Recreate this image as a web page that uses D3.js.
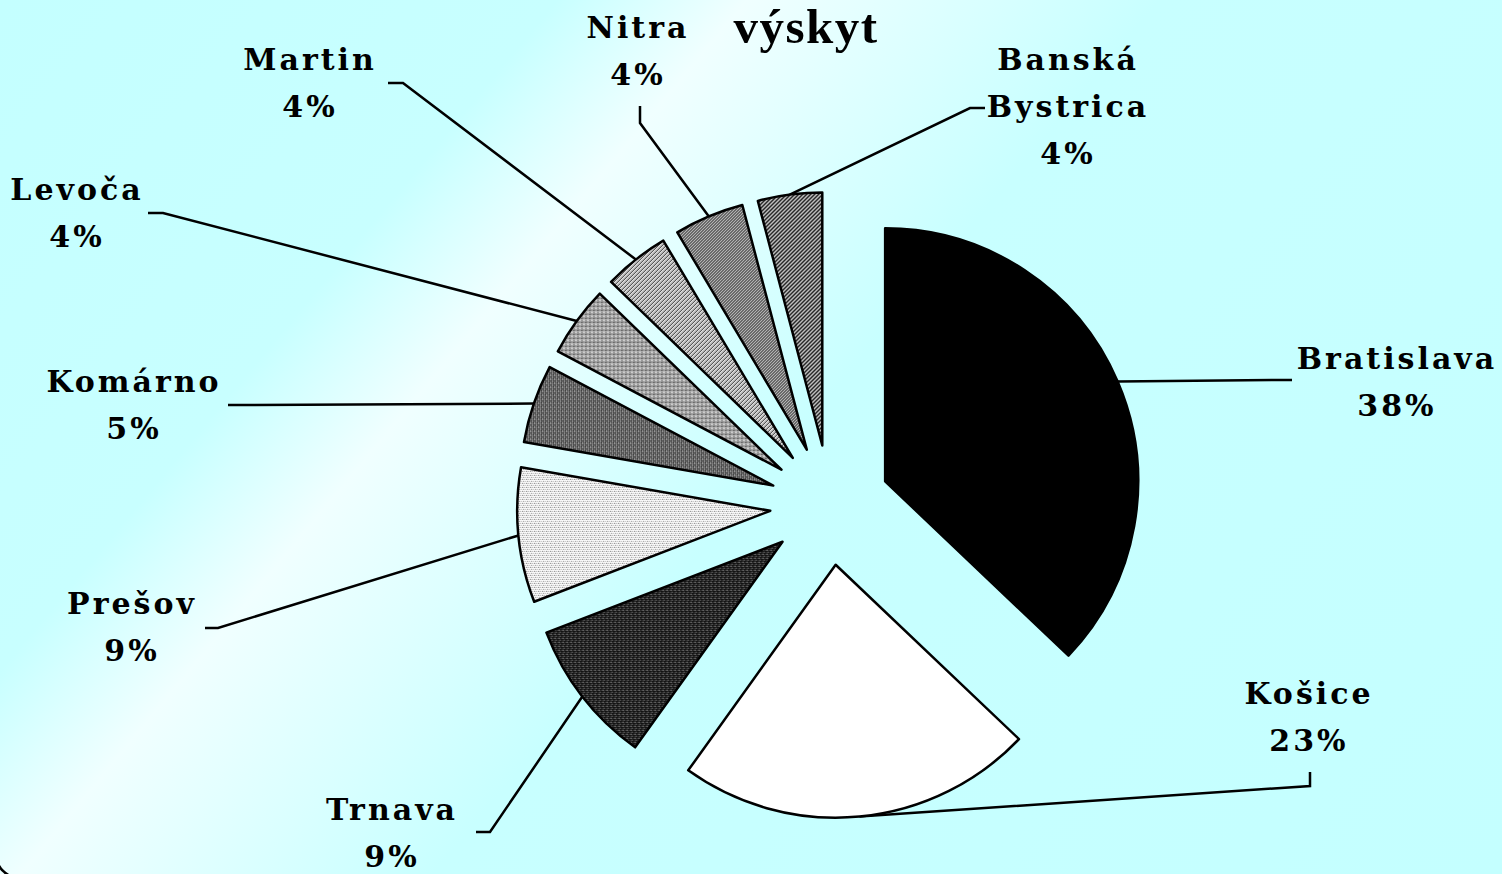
<!DOCTYPE html>
<html>
<head>
<meta charset="utf-8">
<script src="https://cdn.jsdelivr.net/npm/d3@7/dist/d3.min.js"></script>
<style>
    body { margin: 0; overflow: hidden; }
</style>
</head>
<body>
<div id="pie_chart"></div>
<script>
// data (shares, labels as printed)
var regions = ["Bratislava", "Košice", "Trnava", "Prešov", "Komárno", "Levoča", "Martin", "Nitra", "Banská Bystrica"];
var shares = [37.1, 22.8, 9.25, 8.6, 5.0, 4.5, 4.2, 4.45, 4.1];
var shareLabels = ["38%", "23%", "9%", "9%", "5%", "4%", "4%", "4%", "4%"];
var chartTitle = "výskyt";

// size of the page and of the pie
var width = 1502, height = 874;
var cx = 830, cy = 505, radius = 253, explode = 60;

// where each label sits, and the bend / end of its leader line
var labelAt = [[1397, 369], [1309, 704], [392, 820], [132, 614], [134, 392], [77, 200], [310, 70], [638, 38], [1068, 70]];
var bendAt = [[1278, 380], [1310, 786], [490, 832], [218, 628], [240, 405], [163, 213], [403, 83], [640, 123], [970, 108]];
var endAt = [[1292, 380], [1310, 772], [476, 832], [205, 628], [228, 405], [148, 213], [388, 83], [640, 106], [985, 108]];

var svg = d3.select("#pie_chart")
    .append("svg")
    .attr("width", width)
    .attr("height", height);

var defs = svg.append("defs");

// pale cyan background with a lighter diagonal band
var grad = defs.append("linearGradient")
    .attr("id", "bg")
    .attr("gradientUnits", "userSpaceOnUse")
    .attr("x1", 0).attr("y1", 0)
    .attr("x2", 1319).attr("y2", 1096);
[[0, "#c4ffff"], [0.25, "#c8ffff"], [0.335, "#f0ffff"], [0.52, "#c8ffff"], [1, "#c4ffff"]]
    .forEach(function(s) {
        grad.append("stop").attr("offset", s[0]).attr("stop-color", s[1]);
    });

// small pixel patterns, like the old excel fills
function pixelPattern(id, size, bg, pix) {
    var p = defs.append("pattern")
        .attr("id", id)
        .attr("patternUnits", "userSpaceOnUse")
        .attr("width", size)
        .attr("height", size);
    p.append("rect").attr("width", size).attr("height", size).attr("fill", bg);
    pix.forEach(function(q) {
        p.append("rect")
            .attr("x", q[0]).attr("y", q[1])
            .attr("width", 1).attr("height", 1)
            .attr("fill", q[2]);
    });
}
function diagonal(size, colors) {
    var out = [];
    for (var x = 0; x < size; x++)
        for (var y = 0; y < size; y++)
            out.push([x, y, colors[(x + y) % colors.length]]);
    return out;
}

pixelPattern("p_trnava", 4, "#000", [[0, 0, "#fff"], [2, 0, "#888"], [1, 2, "#ccc"], [3, 2, "#777"]]);
pixelPattern("p_presov", 4, "#fff", [[0, 0, "#555"], [2, 0, "#999"], [1, 2, "#777"], [3, 2, "#aaa"]]);
pixelPattern("p_komarno", 4, "#6e6e6e", [[0, 0, "#000"], [2, 0, "#222"], [1, 1, "#ddd"], [0, 2, "#111"], [2, 2, "#333"], [3, 3, "#bbb"], [3, 1, "#999"]]);
pixelPattern("p_levoca", 4, "#b0b0b0", [[0, 0, "#000"], [2, 2, "#fff"], [2, 0, "#666"], [0, 2, "#777"], [1, 3, "#999"]]);
pixelPattern("p_martin", 4, "#fff", diagonal(4, ["#222", "#eee", "#bbb", "#ddd"]));
pixelPattern("p_nitra", 3, "#fff", diagonal(3, ["#111", "#ddd", "#999"]));
pixelPattern("p_bb", 4, "#fff", diagonal(4, ["#000", "#333", "#fff", "#999"]));

var fills = ["#000", "#fff", "url(#p_trnava)", "url(#p_presov)", "url(#p_komarno)",
    "url(#p_levoca)", "url(#p_martin)", "url(#p_nitra)", "url(#p_bb)"];

svg.append("rect")
    .attr("width", width)
    .attr("height", height)
    .attr("fill", "url(#bg)");

// only the bottom left corner of the frame shows
svg.append("rect")
    .attr("x", -4).attr("y", -30)
    .attr("width", 1540).attr("height", 908)
    .attr("rx", 24)
    .attr("fill", "none")
    .attr("stroke", "#000")
    .attr("stroke-width", 2.5);

var pie = d3.pie().sort(null).value(function(d) { return d; });
var arcs = pie(shares);
var arc = d3.arc().innerRadius(0).outerRadius(radius);

function offset(d) {
    var mid = (d.startAngle + d.endAngle) / 2;
    return [cx + explode * Math.sin(mid), cy - explode * Math.cos(mid)];
}

// leader lines
svg.append("g")
    .selectAll("polyline")
    .data(arcs)
    .enter()
    .append("polyline")
    .attr("fill", "none")
    .attr("stroke", "#000")
    .attr("stroke-width", 2.5)
    .attr("points", function(d, i) {
        var o = offset(d);
        var mid = (d.startAngle + d.endAngle) / 2;
        var start = [o[0] + radius * Math.sin(mid), o[1] - radius * Math.cos(mid)];
        return [start, bendAt[i], endAt[i]].map(function(p) { return p.join(","); }).join(" ");
    });

// exploded slices
svg.append("g")
    .selectAll("path")
    .data(arcs)
    .enter()
    .append("path")
    .attr("transform", function(d) { return "translate(" + offset(d) + ")"; })
    .attr("d", arc)
    .attr("fill", function(d, i) { return fills[i]; })
    .attr("stroke", "#000")
    .attr("stroke-width", 2.5)
    .attr("stroke-linejoin", "round");

// labels: name (maybe on two lines) and share
var labels = svg.append("g")
    .selectAll("text")
    .data(arcs)
    .enter()
    .append("text")
    .attr("text-anchor", "middle")
    .style("font-family", "'DejaVu Serif', serif")
    .style("font-weight", "bold")
    .style("font-size", "30px")
    .style("letter-spacing", "3px")
    .attr("fill", "#000");

labels.each(function(d, i) {
    var lines = regions[i].split(" ").concat([shareLabels[i]]);
    var t = d3.select(this);
    lines.forEach(function(s, k) {
        t.append("tspan")
            .attr("x", labelAt[i][0])
            .attr("y", labelAt[i][1] + k * 47)
            .text(s);
    });
});

svg.append("text")
    .attr("x", 806)
    .attr("y", 43)
    .attr("text-anchor", "middle")
    .style("font-family", "'Liberation Serif', serif")
    .style("font-weight", "bold")
    .style("font-size", "49px")
    .style("letter-spacing", "1.5px")
    .text(chartTitle);
</script>
</body>
</html>
